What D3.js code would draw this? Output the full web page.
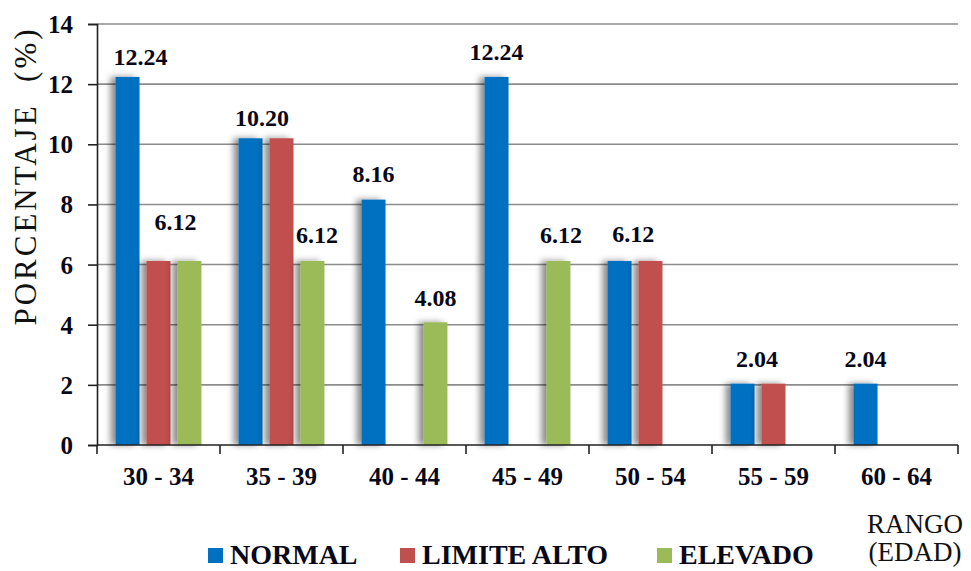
<!DOCTYPE html>
<html>
<head>
<meta charset="utf-8">
<script src="https://cdn.jsdelivr.net/npm/d3@7"></script>
<style>
  html, body { margin: 0; padding: 0; background: #fff; }
  svg { display: block; }
  svg text { font-family: "Liberation Serif", "Times New Roman", serif; }
</style>
</head>
<body>
<svg id="chart" width="971" height="571"></svg>
<script>
// Age ranges on the x axis
const categories = ["30 - 34", "35 - 39", "40 - 44", "45 - 49", "50 - 54", "55 - 59", "60 - 64"];
// Series names (legend order)
const seriesNames = ["NORMAL", "LIMITE ALTO", "ELEVADO"];
// Percentages per age range
const normal     = [12.24, 10.20, 8.16, 12.24, 6.12, 2.04, 2.04];
const limiteAlto = [6.12, 10.20, 0, 0, 6.12, 2.04, 0];
const elevado    = [6.12, 6.12, 4.08, 6.12, 0, 0, 0];
// Y axis ticks
const yTicks = [0, 2, 4, 6, 8, 10, 12, 14];

const seriesValues = [normal, limiteAlto, elevado];
const colors = ["#0070C0", "#C0504D", "#9BBB59"];
const SERIF = "'Liberation Serif', 'Times New Roman', serif";
const INK = "#080818";

const svg = d3.select("#chart");
const W = 971, H = 571;
svg.append("rect").attr("width", W).attr("height", H).attr("fill", "#fff");

const plotL = 97, plotR = 958, plotT = 24, plotB = 445;

const x0 = d3.scaleBand().domain(categories).range([plotL, plotR]).padding(0);
const x1 = d3.scaleBand().domain(d3.range(seriesNames.length))
  .range([0, x0.bandwidth()]).paddingInner(0.226).paddingOuter(0.6);
const y = d3.scaleLinear().domain([0, 14]).range([plotB, plotT]);

// soft shadow cast to the left of each bar
const defs = svg.append("defs");
const f = defs.append("filter").attr("id", "barShadow")
  .attr("x", "-60%").attr("y", "-10%").attr("width", "200%").attr("height", "120%");
f.append("feDropShadow").attr("dx", -5).attr("dy", 0).attr("stdDeviation", 3)
  .attr("flood-color", "#000").attr("flood-opacity", 0.45);

// horizontal gridlines
svg.append("g").selectAll("line").data(yTicks.filter(t => t > 0)).join("line")
  .attr("x1", plotL).attr("x2", plotR)
  .attr("y1", d => y(d)).attr("y2", d => y(d))
  .attr("stroke", "#8c8c8c").attr("stroke-width", 1.6);

// bars
const barData = [];
categories.forEach((c, ci) => {
  seriesValues.forEach((vals, si) => {
    if (vals[ci] > 0) barData.push({ cat: c, s: si, v: vals[ci] });
  });
});
svg.append("g").selectAll("rect").data(barData).join("rect")
  .attr("x", d => x0(d.cat) + x1(d.s))
  .attr("y", d => y(d.v))
  .attr("width", x1.bandwidth())
  .attr("height", d => y(0) - y(d.v))
  .attr("fill", d => colors[d.s])
  .attr("filter", "url(#barShadow)");

// y axis
const yAxis = d3.axisLeft(y).tickValues(yTicks).tickSize(9).tickPadding(15).tickFormat(d3.format("d"));
const gy = svg.append("g").attr("transform", `translate(${plotL},0)`).call(yAxis)
  .attr("font-family", SERIF);
gy.select(".domain").attr("stroke", "#222").attr("stroke-width", 1.6);
gy.selectAll(".tick line").attr("stroke", "#222").attr("stroke-width", 1.6);
gy.selectAll(".tick text").attr("font-size", 25).attr("font-weight", "bold")
  .attr("fill", INK).attr("font-family", SERIF).attr("dy", "0.34em");

// x axis with ticks on category boundaries
const gx = svg.append("g").attr("transform", `translate(0,${plotB})`);
gx.append("line").attr("x1", plotL).attr("x2", plotR).attr("stroke", "#222").attr("stroke-width", 1.6);
gx.selectAll("line.b").data(categories.map(c => x0(c)).concat([plotR])).join("line")
  .attr("class", "b").attr("x1", d => d).attr("x2", d => d).attr("y1", 0).attr("y2", 9)
  .attr("stroke", "#222").attr("stroke-width", 1.6);
gx.selectAll("text").data(categories).join("text")
  .attr("x", d => x0(d) + x0.bandwidth() / 2).attr("y", 40)
  .attr("text-anchor", "middle").attr("font-size", 25).attr("font-weight", "bold")
  .attr("font-family", SERIF).attr("fill", INK).text(d => d);

// value labels: cat, series, horizontal anchor (in series slots), lift above bar top
const labelSpots = [
  { c: 0, s: 0, at: 0.42, lift: 12 },
  { c: 0, s: 1, at: 1.55, lift: 31 },
  { c: 1, s: 0, at: 0.37, lift: 12 },
  { c: 1, s: 2, at: 2.15, lift: 18 },
  { c: 2, s: 0, at: 0.0, lift: 18 },
  { c: 2, s: 2, at: 2.0, lift: 16 },
  { c: 3, s: 0, at: 0.0, lift: 17 },
  { c: 3, s: 2, at: 2.08, lift: 18 },
  { c: 4, s: 0, at: 0.44, lift: 19 },
  { c: 5, s: 0, at: 0.47, lift: 17 },
  { c: 6, s: 0, at: 0.0, lift: 17 }
];
svg.append("g").selectAll("text").data(labelSpots).join("text")
  .attr("x", d => x0(categories[d.c]) + x1(0) + x1.bandwidth() / 2 + d.at * x1.step())
  .attr("y", d => y(seriesValues[d.s][d.c]) - d.lift)
  .attr("text-anchor", "middle").attr("font-size", 24).attr("font-weight", "bold")
  .attr("font-family", SERIF).attr("fill", INK)
  .text(d => seriesValues[d.s][d.c].toFixed(2));

// y axis title
svg.append("text")
  .attr("transform", "translate(36,176) rotate(-90)")
  .attr("text-anchor", "middle").attr("font-size", 31).attr("letter-spacing", 3)
  .attr("font-family", SERIF).style("white-space", "pre").attr("fill", "#111")
  .text("PORCENTAJE  (%)");

// x axis title
const xt = svg.append("text").attr("text-anchor", "middle").attr("font-size", 27)
  .attr("font-family", SERIF).attr("fill", "#111");
xt.append("tspan").attr("x", 915).attr("y", 533).text("RANGO");
xt.append("tspan").attr("x", 915).attr("y", 561).text("(EDAD)");

// legend
const legendX = [208, 400, 657];
const lg = svg.append("g").selectAll("g").data(seriesNames).join("g")
  .attr("transform", (d, i) => `translate(${legendX[i]},548)`);
lg.append("rect").attr("width", 15).attr("height", 15).attr("fill", (d, i) => colors[i]);
lg.append("text").attr("x", 22).attr("y", 16).attr("font-size", 28).attr("font-weight", "bold")
  .attr("font-family", SERIF).attr("fill", INK).text(d => d);
</script>
</body>
</html>
